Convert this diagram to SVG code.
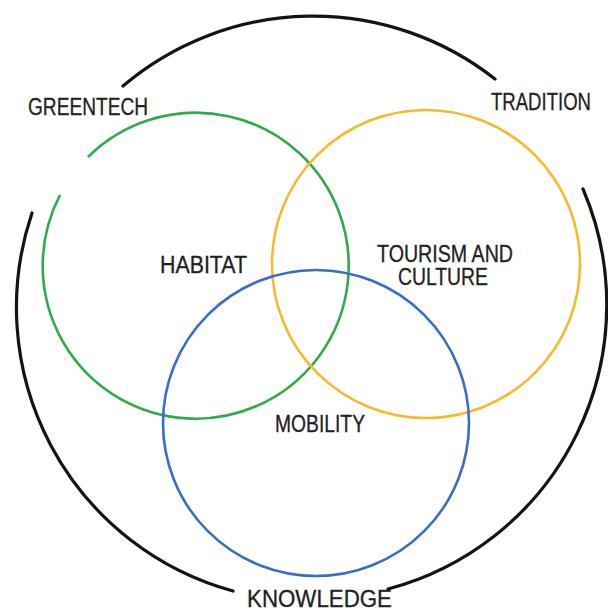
<svg xmlns="http://www.w3.org/2000/svg" width="608" height="612" viewBox="0 0 608 612">
<style>
.ring{fill:none;stroke:#141414;stroke-width:3.2;stroke-linecap:round}
.c{fill:none;stroke-width:2.6}
.lbl{font-family:"Liberation Sans",Arial,sans-serif;font-size:23px;fill:#222;stroke:#222;stroke-width:0.3}
</style>
<rect width="608" height="612" fill="#ffffff"/>
<g id="outer-ring">
<path class="ring" d="M123,86 A294,294 0 0 1 495,79"/>
<path class="ring" d="M32,213 A294,294 0 0 0 233,591"/>
<path class="ring" d="M583,189 A294,294 0 0 1 388,589"/>
</g>
<g id="habitat">
<path class="c" stroke="#2eac4c" d="M88,157 A153,153 0 1 1 60,195"/>
<text class="lbl" x="160" y="273" textLength="87" lengthAdjust="spacingAndGlyphs">HABITAT</text>
</g>
<g id="tourism">
<circle class="c" stroke="#f8b92c" cx="426" cy="264" r="154"/>
<text class="lbl" x="377" y="262" textLength="136" lengthAdjust="spacingAndGlyphs">TOURISM AND</text>
<text class="lbl" x="398" y="285" textLength="90" lengthAdjust="spacingAndGlyphs">CULTURE</text>
</g>
<g id="mobility">
<circle class="c" stroke="#3a6ec6" cx="316" cy="423" r="153"/>
<text class="lbl" x="275" y="432" textLength="90" lengthAdjust="spacingAndGlyphs">MOBILITY</text>
</g>
<g id="greentech">
<text class="lbl" x="28" y="115" textLength="120" lengthAdjust="spacingAndGlyphs">GREENTECH</text>
</g>
<g id="tradition">
<text class="lbl" x="491" y="110" textLength="100" lengthAdjust="spacingAndGlyphs">TRADITION</text>
</g>
<g id="knowledge">
<text class="lbl" x="247" y="607" textLength="145" lengthAdjust="spacingAndGlyphs">KNOWLEDGE</text>
</g>
<g id="connectors"/>
</svg>
